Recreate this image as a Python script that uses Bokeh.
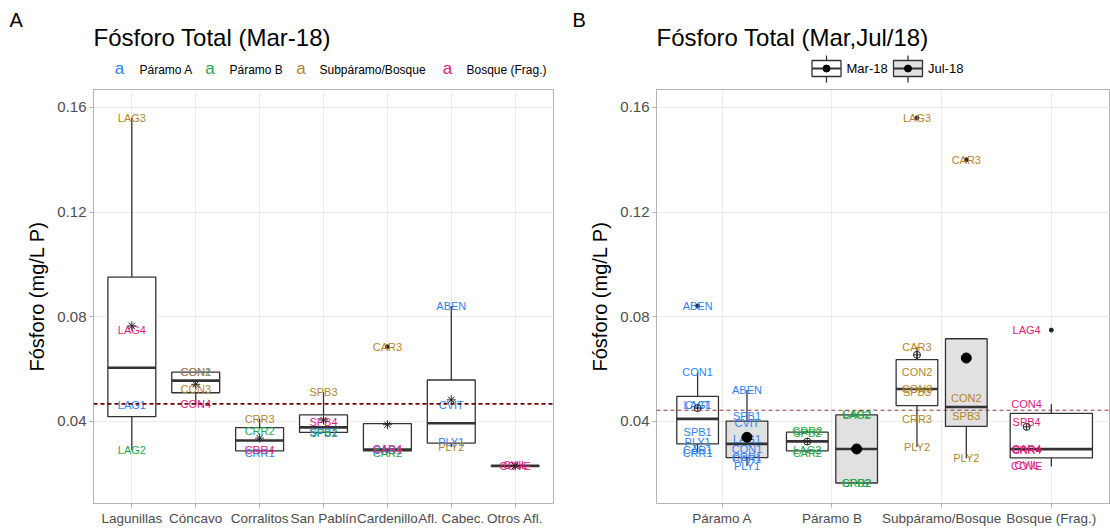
import numpy as np
from bokeh.plotting import figure
from bokeh.layouts import column, row
from bokeh.models import Range1d, FixedTicker, Span, PrintfTickFormatter
from bokeh.core.properties import value
from bokeh.embed import file_html
from bokeh.resources import INLINE

FONT = "Liberation Sans"

# ---------------- data ----------------
sites = ["Lagunillas", "Cóncavo", "Corralitos", "San Pablín", "Cardenillo", "Afl. Cabec.", "Otros Afl."]
covers = ["Páramo A", "Páramo B", "Subpáramo/Bosque", "Bosque (Frag.)"]
cover_colors = ["#2F7FF5", "#1FA64A", "#B5852B", "#E0187C"]
campaigns = ["Mar-18", "Jul-18"]
y_ticks = [0.04, 0.08, 0.12, 0.16]

mar_station = ["LAG1", "LAG2", "LAG3", "LAG4",
               "CON1", "CON2", "CON3", "CON4",
               "CRR1", "CRR2", "CRR3", "CRR4",
               "SPB1", "SPB2", "SPB3", "SPB4",
               "CAR1", "CAR2", "CAR3", "CAR4",
               "ABEN", "CVIT", "PLY1", "PLY2",
               "COVE", "CVIL"]
mar_site = ["Lagunillas"] * 4 + ["Cóncavo"] * 4 + ["Corralitos"] * 4 + ["San Pablín"] * 4 + \
           ["Cardenillo"] * 4 + ["Afl. Cabec."] * 4 + ["Otros Afl."] * 2
mar_cover = ["Páramo A", "Páramo B", "Subpáramo/Bosque", "Bosque (Frag.)",
             "Páramo A", "Subpáramo/Bosque", "Subpáramo/Bosque", "Bosque (Frag.)",
             "Páramo A", "Páramo B", "Subpáramo/Bosque", "Bosque (Frag.)",
             "Páramo A", "Páramo B", "Subpáramo/Bosque", "Bosque (Frag.)",
             "Páramo A", "Páramo B", "Subpáramo/Bosque", "Bosque (Frag.)",
             "Páramo A", "Páramo A", "Páramo A", "Subpáramo/Bosque",
             "Bosque (Frag.)", "Bosque (Frag.)"]
mar_p = [0.0461, 0.0290, 0.1560, 0.0749,
         0.0590, 0.0588, 0.0524, 0.0466,
         0.0281, 0.0365, 0.0410, 0.0289,
         0.0358, 0.0357, 0.0511, 0.0396,
         0.0290, 0.0280, 0.0685, 0.0294,
         0.0841, 0.0464, 0.0322, 0.0302,
         0.0228, 0.0232]

jul_station = ["ABEN", "SPB1", "CVIT", "LAG1", "CON1", "CRR1", "CAR1", "PLY1",
               "LAG2", "CAR2", "CRR2", "SPB2",
               "PLY2", "SPB3", "CON2", "CAR3"]
jul_cover = ["Páramo A"] * 8 + ["Páramo B"] * 4 + ["Subpáramo/Bosque"] * 4
jul_p = [0.0520, 0.0420, 0.0395, 0.0333, 0.0295, 0.0263, 0.0258, 0.0230,
         0.0424, 0.0427, 0.0163, 0.0165,
         0.0259, 0.0422, 0.0488, 0.1400]

# ---------------- helpers ----------------
Y0, Y1 = 0.00862, 0.16686
GRID = "#EBEBEB"
BORDER = "#B3B3B3"
BOXLINE = "#333333"


def box_stats(v):
    v = np.asarray(v, float)
    q1, q2, q3 = np.percentile(v, [25, 50, 75])
    iqr = q3 - q1
    out = (v < q1 - 1.5 * iqr) | (v > q3 + 1.5 * iqr)
    inl = v[~out]
    lo = min(q1, inl.min())
    hi = max(q3, inl.max())
    return q1, q2, q3, lo, hi, list(v[out]), v.mean()


def style(p, labels):
    p.xaxis.ticker = FixedTicker(ticks=list(range(1, len(labels) + 1)))
    p.xaxis.major_label_overrides = {i + 1: s for i, s in enumerate(labels)}
    p.yaxis.ticker = FixedTicker(ticks=y_ticks)
    p.yaxis.formatter = PrintfTickFormatter(format="%.2f")
    for ax in (p.xaxis[0], p.yaxis[0]):
        ax.axis_line_color = BORDER
        ax.major_tick_line_color = BORDER
        ax.major_tick_out = 4
        ax.major_tick_in = 0
        ax.minor_tick_line_color = None
        ax.major_label_text_color = "#4D4D4D"
        ax.major_label_text_font = FONT
    p.xaxis.major_label_text_font_size = "13.5px"
    p.xaxis.major_label_standoff = 3
    p.yaxis.major_label_text_font_size = "15px"
    p.yaxis.major_label_standoff = 3
    p.yaxis.axis_label = "Fósforo (mg/L P)"
    p.yaxis.axis_label_text_font = FONT
    p.yaxis.axis_label_text_font_size = "20px"
    p.yaxis.axis_label_text_font_style = "normal"
    p.yaxis.axis_label_text_color = "#000000"
    p.yaxis.axis_label_standoff = 6
    p.xgrid.grid_line_color = GRID
    p.ygrid.grid_line_color = GRID
    p.outline_line_color = BORDER
    p.outline_line_width = 1
    p.background_fill_color = "white"


# ---------------- panel A ----------------
pA = figure(width=565, height=441, x_range=Range1d(0.4, 7.6), y_range=Range1d(Y0, Y1),
            output_backend="svg", toolbar_location=None,
            min_border_left=93, min_border_right=12, min_border_top=1, min_border_bottom=26)
style(pA, sites)

bx, q1s, q2s, q3s, los, his, means, ox, oy = [], [], [], [], [], [], [], [], []
for i, s in enumerate(sites):
    v = [pv for pv, ss in zip(mar_p, mar_site) if ss == s]
    q1, q2, q3, lo, hi, outs, m = box_stats(v)
    bx.append(i + 1); q1s.append(q1); q2s.append(q2); q3s.append(q3)
    los.append(lo); his.append(hi); means.append(m)
    ox += [i + 1] * len(outs); oy += outs
bx = np.array(bx, float)
wA = 0.75
pA.segment(x0=bx, y0=q3s, x1=bx, y1=his, line_color=BOXLINE, line_width=1.3)
pA.segment(x0=bx, y0=q1s, x1=bx, y1=los, line_color=BOXLINE, line_width=1.3)
pA.vbar(x=bx, width=wA, top=q3s, bottom=q1s, fill_color="white", line_color=BOXLINE, line_width=1.3)
pA.segment(x0=bx - wA / 2, y0=q2s, x1=bx + wA / 2, y1=q2s, line_color=BOXLINE, line_width=2.6)
pA.scatter(x=ox, y=oy, size=4, color="#222222")

mean_all_mar = float(np.mean(mar_p))
pA.add_layout(Span(location=mean_all_mar, dimension="width", line_color="#6E0000",
                   line_dash="4 3", line_width=1.8))

lx = [sites.index(s) + 1 for s in mar_site]
lc = [cover_colors[covers.index(c)] for c in mar_cover]
pA.text(x=lx, y=mar_p, text=mar_station, text_color=lc, text_font=value(FONT),
        text_font_size="11px", text_align="center", text_baseline="middle")
pA.scatter(x=bx, y=means, marker="asterisk", size=9, line_color="#222222", line_width=1)

# ---------------- panel B ----------------
pB = figure(width=545, height=441, x_range=Range1d(0.4, 0.4 + 454 / 109.67), y_range=Range1d(Y0, Y1),
            output_backend="svg", toolbar_location=None,
            min_border_left=91, min_border_right=0, min_border_top=1, min_border_bottom=26)
style(pB, covers)

data_by = {"Mar-18": (mar_station, mar_cover, mar_p), "Jul-18": (jul_station, jul_cover, jul_p)}
DODGE = 0.225
for ci, c in enumerate(covers):
    present = [k for k in campaigns if c in data_by[k][1]]
    for k in present:
        st, cv, pv = data_by[k]
        v = [x for x, cc in zip(pv, cv) if cc == c]
        names = [n for n, cc in zip(st, cv) if cc == c]
        q1, q2, q3, lo, hi, outs, m = box_stats(v)
        dx = -DODGE if k == "Mar-18" else DODGE
        if len(present) == 1:
            xc, w = ci + 1, 0.75
        else:
            xc, w = ci + 1 + dx, 0.38
        fill = "white" if k == "Mar-18" else "#E1E1E1"
        pB.segment(x0=[xc], y0=[q3], x1=[xc], y1=[hi], line_color=BOXLINE, line_width=1.3)
        pB.segment(x0=[xc], y0=[q1], x1=[xc], y1=[lo], line_color=BOXLINE, line_width=1.3)
        pB.vbar(x=[xc], width=w, top=[q3], bottom=[q1], fill_color=fill, line_color=BOXLINE, line_width=1.3)
        pB.segment(x0=[xc - w / 2], y0=[q2], x1=[xc + w / 2], y1=[q2], line_color=BOXLINE, line_width=2.6)
        pB.scatter(x=[xc] * len(outs), y=outs, size=4, color="#222222")
        pB.text(x=[ci + 1 + dx] * len(v), y=v, text=names, text_color=cover_colors[ci],
                text_font=value(FONT), text_font_size="11px", text_align="center", text_baseline="middle")
        if k == "Mar-18":
            pB.scatter(x=[ci + 1 + dx], y=[m], marker="circle_cross", size=7, fill_color=None,
                       line_color="#222222", line_width=1)
        else:
            pB.scatter(x=[ci + 1 + dx], y=[m], marker="circle", size=10, color="#000000")

mean_all = float(np.mean(mar_p + jul_p))
pB.add_layout(Span(location=mean_all, dimension="width", line_color="#8C3A3A",
                   line_dash="4 3", line_width=1))

# ---------------- header (titles & legends) ----------------
hd = figure(width=1110, height=88, x_range=Range1d(0, 1110), y_range=Range1d(88, 0),
            output_backend="svg", toolbar_location=None, min_border=0,
            x_axis_location=None, y_axis_location=None)
hd.grid.visible = False
hd.outline_line_color = None

hd.text(x=[9, 572], y=[19, 19], text=["A", "B"], text_font=value(FONT), text_font_size="20px",
        text_baseline="middle", text_align="left", text_color="#000000")
hd.text(x=[93, 656], y=[37, 37], text=["Fósforo Total (Mar-18)", "Fósforo Total (Mar,Jul/18)"],
        text_font=value(FONT), text_font_size="24px", text_baseline="middle", text_align="left",
        text_color="#000000")
# legend panel A
hd.text(x=[119, 209.5, 300.5, 447], y=[68, 68, 68, 68], text=["a"] * 4, text_color=cover_colors,
        text_font=value(FONT), text_font_size="17px", text_baseline="middle", text_align="center")
hd.text(x=[139, 229, 319, 466], y=[69, 69, 69, 69], text=covers, text_color="#000000",
        text_font=value(FONT), text_font_size="12px", text_baseline="middle", text_align="left")
# legend panel B
kx = np.array([826.0, 907.5])
hd.segment(x0=kx, y0=[55, 55], x1=kx, y1=[82, 82], line_color=BOXLINE, line_width=1.3)
hd.quad(left=kx - 14.5, right=kx + 14.5, top=[60, 60], bottom=[76, 76], fill_color=["white", "#E1E1E1"],
        line_color=BOXLINE, line_width=1.3)
hd.segment(x0=kx - 14.5, y0=[68, 68], x1=kx + 14.5, y1=[68, 68], line_color=BOXLINE, line_width=2.2)
hd.scatter(x=kx, y=[68, 68], size=7, color="#000000")
hd.text(x=[846, 927.5], y=[68, 68], text=campaigns, text_color="#000000",
        text_font=value(FONT), text_font_size="13px", text_baseline="middle", text_align="left")

layout = column(hd, row(pA, pB))
open("out.html", "w").write(file_html(layout, INLINE))
